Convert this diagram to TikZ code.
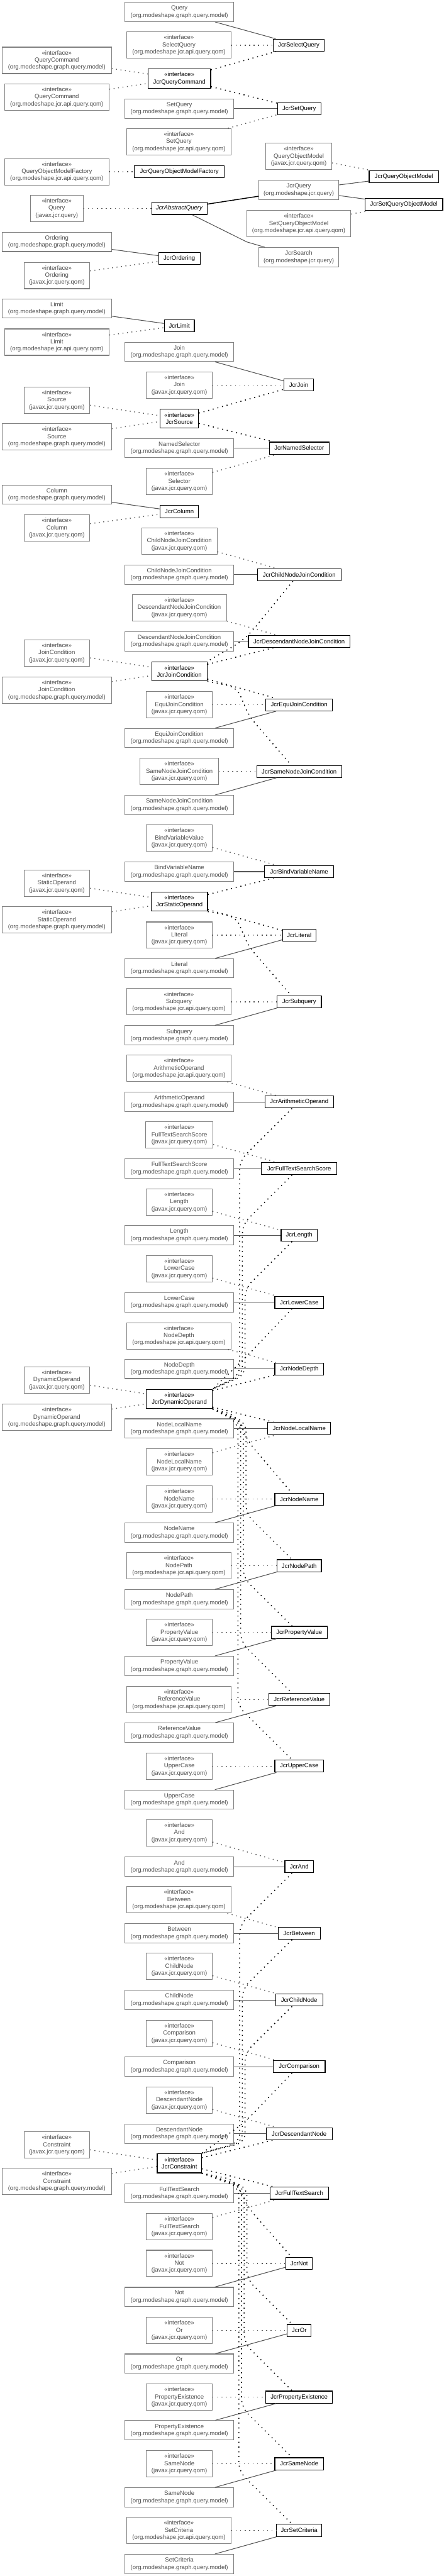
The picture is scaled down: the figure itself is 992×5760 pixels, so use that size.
\documentclass[tikz,border=0pt]{standalone}
\usepackage{fontspec}
\setmainfont{Liberation Sans}
\definecolor{boxgray}{HTML}{808080}
\definecolor{txtgray}{HTML}{4D4D4D}
\definecolor{linegray}{HTML}{555555}
\newcommand\Ifc{«interface»\\}
\begin{document}
\begin{tikzpicture}[x=1pt,y=-1pt,
  font=\fontsize{13.5}{16}\selectfont,
  ext/.style={draw=boxgray,line width=1.5pt,text=txtgray,align=center,inner sep=2pt,minimum height=43pt},
  ext3/.style={ext,minimum height=59pt},
  mdl/.style={ext,minimum width=244pt},
  mdli/.style={ext3,minimum width=244pt},
  qom/.style={ext3,minimum width=233pt},
  jvx/.style={ext3,minimum width=147pt},
  jcr/.style={draw=black,line width=1.6pt,text=black,align=center,inner sep=2pt,minimum height=27pt},
  jcri/.style={jcr,minimum height=43pt},
  wd/.style={minimum width=#1pt},
  assoc/.style={draw=linegray,line width=1.5pt},
  dep/.style={draw=linegray,line width=2pt,dash pattern=on 2pt off 8pt},
  jdep/.style={draw=black,line width=2.2pt,dash pattern=on 2.2pt off 8.5pt},
]
\useasboundingbox (0,0) rectangle (992,5760);

% ---------- Section 1
\node[mdl] (n1) at (401,27) {Query\\(org.modeshape.graph.query.model)};
\node[qom] (n2) at (400,101) {\Ifc SelectQuery\\(org.modeshape.jcr.api.query.qom)};
\node[jcr,wd=115] (n3) at (668,101) {JcrSelectQuery};
\node[mdli] (n4) at (127,135) {\Ifc QueryCommand\\(org.modeshape.graph.query.model)};
\node[jcri,wd=140] (n5) at (401,176) {\Ifc JcrQueryCommand};
\node[qom] (n6) at (127,217) {\Ifc QueryCommand\\(org.modeshape.jcr.api.query.qom)};
\node[mdl] (n7) at (401,243) {SetQuery\\(org.modeshape.graph.query.model)};
\node[jcr,wd=97] (n8) at (669,243) {JcrSetQuery};
\node[qom] (n9) at (400,317) {\Ifc SetQuery\\(org.modeshape.jcr.api.query.qom)};
\node[jvx] (n10) at (668,350) {\Ifc QueryObjectModel\\(javax.jcr.query.qom)};
\node[qom] (n11) at (127,384) {\Ifc QueryObjectModelFactory\\(org.modeshape.jcr.api.query.qom)};
\node[jcr,wd=201] (n12) at (401,384) {JcrQueryObjectModelFactory};
\node[jcr,wd=155] (n13) at (903,395) {JcrQueryObjectModel};
\node[ext,wd=179] (n14) at (668,425) {JcrQuery\\(org.modeshape.jcr.query)};
\node[jcr,wd=174] (n15) at (903,457) {JcrSetQueryObjectModel};
\node[ext3,wd=118] (n16) at (127,466) {\Ifc Query\\(javax.jcr.query)};
\node[jcr,wd=124] (n17) at (401,466) {\textit{JcrAbstractQuery}};
\node[qom] (n18) at (668,500) {\Ifc SetQueryObjectModel\\(org.modeshape.jcr.api.query.qom)};
\node[ext,wd=179] (n19) at (668,575) {JcrSearch\\(org.modeshape.jcr.query)};

% ---------- Section 2
\node[mdl] (n20) at (127,541) {Ordering\\(org.modeshape.graph.query.model)};
\node[jcr,wd=93] (n21) at (401,578) {JcrOrdering};
\node[jvx] (n22) at (127,616) {\Ifc Ordering\\(javax.jcr.query.qom)};
\node[mdl] (n23) at (127,690) {Limit\\(org.modeshape.graph.query.model)};
\node[jcr,wd=67] (n24) at (401,728) {JcrLimit};
\node[qom] (n25) at (127,765) {\Ifc Limit\\(org.modeshape.jcr.api.query.qom)};
\node[mdl] (n26) at (401,787) {Join\\(org.modeshape.graph.query.model)};
\node[jvx] (n27) at (401,861) {\Ifc Join\\(javax.jcr.query.qom)};
\node[jcr,wd=65] (n28) at (668,861) {JcrJoin};
\node[jvx] (n29) at (127,895) {\Ifc Source\\(javax.jcr.query.qom)};
\node[jcri,wd=86] (n30) at (401,936) {\Ifc JcrSource};
\node[mdli] (n31) at (127,977) {\Ifc Source\\(org.modeshape.graph.query.model)};
\node[mdl] (n32) at (401,1002) {NamedSelector\\(org.modeshape.graph.query.model)};
\node[jcr,wd=134] (n33) at (669,1002) {JcrNamedSelector};
\node[jvx] (n34) at (401,1077) {\Ifc Selector\\(javax.jcr.query.qom)};
\node[mdl] (n35) at (127,1106) {Column\\(org.modeshape.graph.query.model)};
\node[jcr,wd=86] (n36) at (401,1144) {JcrColumn};
\node[jvx] (n37) at (127,1181) {\Ifc Column\\(javax.jcr.query.qom)};

% ---------- Section 3
\node[jvx,wd=169] (n38) at (401,1210) {\Ifc ChildNodeJoinCondition\\(javax.jcr.query.qom)};
\node[mdl] (n39) at (401,1285) {ChildNodeJoinCondition\\(org.modeshape.graph.query.model)};
\node[jcr,wd=187] (n40) at (669,1285) {JcrChildNodeJoinCondition};
\node[jvx,wd=211] (n41) at (401,1359) {\Ifc DescendantNodeJoinCondition\\(javax.jcr.query.qom)};
\node[mdl] (n42) at (401,1434) {DescendantNodeJoinCondition\\(org.modeshape.graph.query.model)};
\node[jcr,wd=227] (n43) at (669,1434) {JcrDescendantNodeJoinCondition};
\node[jvx] (n44) at (127,1460) {\Ifc JoinCondition\\(javax.jcr.query.qom)};
\node[jcri,wd=124] (n45) at (401,1501) {\Ifc JcrJoinCondition};
\node[mdli] (n46) at (127,1543) {\Ifc JoinCondition\\(org.modeshape.graph.query.model)};
\node[jvx] (n47) at (401,1576) {\Ifc EquiJoinCondition\\(javax.jcr.query.qom)};
\node[jcr,wd=149] (n48) at (669,1576) {JcrEquiJoinCondition};
\node[mdl] (n49) at (401,1650) {EquiJoinCondition\\(org.modeshape.graph.query.model)};
\node[jvx,wd=175] (n50) at (401,1725) {\Ifc SameNodeJoinCondition\\(javax.jcr.query.qom)};
\node[jcr,wd=190] (n51) at (669,1725) {JcrSameNodeJoinCondition};
\node[mdl] (n52) at (401,1800) {SameNodeJoinCondition\\(org.modeshape.graph.query.model)};

% ---------- Section 4
\node[jvx] (n53) at (401,1874) {\Ifc BindVariableValue\\(javax.jcr.query.qom)};
\node[mdl] (n54) at (401,1949) {BindVariableName\\(org.modeshape.graph.query.model)};
\node[jcr,wd=155] (n55) at (669,1949) {JcrBindVariableName};
\node[jvx] (n56) at (127,1975) {\Ifc StaticOperand\\(javax.jcr.query.qom)};
\node[jcri,wd=126] (n57) at (401,2016) {\Ifc JcrStaticOperand};
\node[mdli] (n58) at (127,2057) {\Ifc StaticOperand\\(org.modeshape.graph.query.model)};
\node[jvx] (n59) at (401,2091) {\Ifc Literal\\(javax.jcr.query.qom)};
\node[jcr,wd=75] (n60) at (669,2091) {JcrLiteral};
\node[mdl] (n61) at (401,2165) {Literal\\(org.modeshape.graph.query.model)};
\node[qom] (n62) at (400,2240) {\Ifc Subquery\\(org.modeshape.jcr.api.query.qom)};
\node[jcr,wd=99] (n63) at (669,2240) {JcrSubquery};
\node[mdl] (n64) at (401,2315) {Subquery\\(org.modeshape.graph.query.model)};

% ---------- Section 5
\node[qom] (n65) at (400,2389) {\Ifc ArithmeticOperand\\(org.modeshape.jcr.api.query.qom)};
\node[mdl] (n66) at (401,2464) {ArithmeticOperand\\(org.modeshape.graph.query.model)};
\node[jcr,wd=153] (n67) at (669,2464) {JcrArithmeticOperand};
\node[jvx,wd=150] (n68) at (401,2538) {\Ifc FullTextSearchScore\\(javax.jcr.query.qom)};
\node[mdl] (n69) at (401,2613) {FullTextSearchScore\\(org.modeshape.graph.query.model)};
\node[jcr,wd=169] (n70) at (669,2613) {JcrFullTextSearchScore};
\node[jvx] (n71) at (401,2688) {\Ifc Length\\(javax.jcr.query.qom)};
\node[mdl] (n72) at (401,2762) {Length\\(org.modeshape.graph.query.model)};
\node[jcr,wd=81] (n73) at (669,2762) {JcrLength};
\node[jvx] (n74) at (401,2837) {\Ifc LowerCase\\(javax.jcr.query.qom)};
\node[mdl] (n75) at (401,2912) {LowerCase\\(org.modeshape.graph.query.model)};
\node[jcr,wd=109] (n76) at (669,2912) {JcrLowerCase};
\node[qom] (n77) at (400,2987) {\Ifc NodeDepth\\(org.modeshape.jcr.api.query.qom)};
\node[mdl] (n78) at (401,3061) {NodeDepth\\(org.modeshape.graph.query.model)};
\node[jcr,wd=109] (n79) at (669,3061) {JcrNodeDepth};
\node[jvx] (n80) at (127,3086) {\Ifc DynamicOperand\\(javax.jcr.query.qom)};
\node[jcri,wd=147] (n81) at (401,3128) {\Ifc JcrDynamicOperand};
\node[mdli] (n82) at (127,3169) {\Ifc DynamicOperand\\(org.modeshape.graph.query.model)};
\node[mdl] (n83) at (401,3194) {NodeLocalName\\(org.modeshape.graph.query.model)};
\node[jcr,wd=141] (n84) at (669,3194) {JcrNodeLocalName};
\node[jvx] (n85) at (401,3269) {\Ifc NodeLocalName\\(javax.jcr.query.qom)};
\node[jvx] (n86) at (401,3352) {\Ifc NodeName\\(javax.jcr.query.qom)};
\node[jcr,wd=109] (n87) at (669,3352) {JcrNodeName};
\node[mdl] (n88) at (401,3427) {NodeName\\(org.modeshape.graph.query.model)};
\node[qom] (n89) at (400,3501) {\Ifc NodePath\\(org.modeshape.jcr.api.query.qom)};
\node[jcr,wd=99] (n90) at (669,3501) {JcrNodePath};
\node[mdl] (n91) at (401,3576) {NodePath\\(org.modeshape.graph.query.model)};
\node[jvx] (n92) at (401,3650) {\Ifc PropertyValue\\(javax.jcr.query.qom)};
\node[jcr,wd=125] (n93) at (669,3650) {JcrPropertyValue};
\node[mdl] (n94) at (401,3725) {PropertyValue\\(org.modeshape.graph.query.model)};
\node[qom] (n95) at (400,3800) {\Ifc ReferenceValue\\(org.modeshape.jcr.api.query.qom)};
\node[jcr,wd=136] (n96) at (669,3800) {JcrReferenceValue};
\node[mdl] (n97) at (401,3874) {ReferenceValue\\(org.modeshape.graph.query.model)};
\node[jvx] (n98) at (401,3949) {\Ifc UpperCase\\(javax.jcr.query.qom)};
\node[jcr,wd=109] (n99) at (669,3949) {JcrUpperCase};
\node[mdl] (n100) at (401,4024) {UpperCase\\(org.modeshape.graph.query.model)};

% ---------- Section 6
\node[jvx] (n101) at (401,4098) {\Ifc And\\(javax.jcr.query.qom)};
\node[mdl] (n102) at (401,4174) {And\\(org.modeshape.graph.query.model)};
\node[jcr,wd=64] (n103) at (669,4174) {JcrAnd};
\node[qom] (n104) at (400,4248) {\Ifc Between\\(org.modeshape.jcr.api.query.qom)};
\node[mdl] (n105) at (401,4323) {Between\\(org.modeshape.graph.query.model)};
\node[jcr,wd=94] (n106) at (669,4323) {JcrBetween};
\node[jvx] (n107) at (401,4397) {\Ifc ChildNode\\(javax.jcr.query.qom)};
\node[mdl] (n108) at (401,4472) {ChildNode\\(org.modeshape.graph.query.model)};
\node[jcr,wd=105] (n109) at (669,4472) {JcrChildNode};
\node[jvx] (n110) at (401,4547) {\Ifc Comparison\\(javax.jcr.query.qom)};
\node[mdl] (n111) at (401,4621) {Comparison\\(org.modeshape.graph.query.model)};
\node[jcr,wd=116] (n112) at (669,4621) {JcrComparison};
\node[jvx] (n113) at (401,4696) {\Ifc DescendantNode\\(javax.jcr.query.qom)};
\node[mdl] (n114) at (401,4771) {DescendantNode\\(org.modeshape.graph.query.model)};
\node[jcr,wd=148] (n115) at (669,4771) {JcrDescendantNode};
\node[jvx] (n116) at (127,4796) {\Ifc Constraint\\(javax.jcr.query.qom)};
\node[jcri,wd=99] (n117) at (401,4837) {\Ifc JcrConstraint};
\node[mdli] (n118) at (127,4878) {\Ifc Constraint\\(org.modeshape.graph.query.model)};
\node[mdl] (n119) at (401,4904) {FullTextSearch\\(org.modeshape.graph.query.model)};
\node[jcr,wd=131] (n120) at (669,4904) {JcrFullTextSearch};
\node[jvx] (n121) at (401,4979) {\Ifc FullTextSearch\\(javax.jcr.query.qom)};
\node[jvx] (n122) at (401,5061) {\Ifc Not\\(javax.jcr.query.qom)};
\node[jcr,wd=59] (n123) at (669,5061) {JcrNot};
\node[mdl] (n124) at (401,5136) {Not\\(org.modeshape.graph.query.model)};
\node[jvx] (n125) at (401,5211) {\Ifc Or\\(javax.jcr.query.qom)};
\node[jcr,wd=53] (n126) at (669,5211) {JcrOr};
\node[mdl] (n127) at (401,5285) {Or\\(org.modeshape.graph.query.model)};
\node[jvx] (n128) at (401,5360) {\Ifc PropertyExistence\\(javax.jcr.query.qom)};
\node[jcr,wd=149] (n129) at (669,5360) {JcrPropertyExistence};
\node[mdl] (n130) at (401,5434) {PropertyExistence\\(org.modeshape.graph.query.model)};
\node[jvx] (n131) at (401,5509) {\Ifc SameNode\\(javax.jcr.query.qom)};
\node[jcr,wd=109] (n132) at (669,5509) {JcrSameNode};
\node[mdl] (n133) at (401,5584) {SameNode\\(org.modeshape.graph.query.model)};
\node[qom] (n134) at (400,5658) {\Ifc SetCriteria\\(org.modeshape.jcr.api.query.qom)};
\node[jcr,wd=101] (n135) at (669,5658) {JcrSetCriteria};
\node[mdl] (n136) at (401,5733) {SetCriteria\\(org.modeshape.graph.query.model)};

% ================= Edges
% Section 1
\draw[assoc] (n1) -- (n3);
\draw[dep] (n2) -- (n3);
\draw[jdep] (n5) -- (n3);
\draw[dep] (n4) -- (n5);
\draw[dep] (n6) -- (n5);
\draw[jdep] (n5) -- (n8);
\draw[assoc] (n7) -- (n8);
\draw[dep] (n9) -- (n8);
\draw[dep] (n10) -- (n13);
\draw[assoc] (n14) -- (n13);
\draw[assoc] (n14) -- (n15);
\draw[dep] (n11) -- (n12);
\draw[dep] (n16) -- (n17);
\draw[assoc,draw=black,line width=2pt] (n17) -- (n14);
\draw[dep] (n18) -- (n15);
\draw[assoc] (n17) -- (552,541) -- (n19);

% Section 2
\draw[assoc] (n20) -- (n21);
\draw[dep] (n22) -- (n21);
\draw[assoc] (n23) -- (n24);
\draw[dep] (n25) -- (n24);
\draw[assoc] (n26) -- (n28);
\draw[dep] (n27) -- (n28);
\draw[jdep] (n30) -- (n28);
\draw[dep] (n29) -- (n30);
\draw[dep] (n31) -- (n30);
\draw[jdep] (n30) -- (n33);
\draw[assoc] (n32) -- (n33);
\draw[dep] (n34) -- (n33);
\draw[assoc] (n35) -- (n36);
\draw[dep] (n37) -- (n36);

% Section 3
\draw[dep] (n38) -- (n40);
\draw[assoc] (n39) -- (n40);
\draw[dep] (n41) -- (n43);
\draw[assoc] (n42) -- (n43);
\draw[dep] (n44) -- (n45);
\draw[dep] (n46) -- (n45);
\draw[jdep] (n45) -- (n43);
\draw[jdep,rounded corners=30pt] ([xshift=-14pt]n40.south) -- (548,1430) -- (n45.north east);
\draw[jdep] (n45) -- (n48);
\draw[dep] (n47) -- (n48);
\draw[assoc] (n49) -- (n48);
\draw[jdep,rounded corners=20pt] (n45.south east) -- (530,1537) -- (556,1600) -- ([xshift=-18pt]n51.north);
\draw[dep] (n50) -- (n51);
\draw[assoc] (n52) -- (n51);

% Section 4
\draw[dep] (n53) -- (n55);
\draw[assoc] (n54) -- (n55);
\draw[jdep] (n57) -- (n55);
\draw[dep] (n56) -- (n57);
\draw[dep] (n58) -- (n57);
\draw[jdep] (n57) -- (n60);
\draw[dep] (n59) -- (n60);
\draw[assoc] (n61) -- (n60);
\draw[jdep,rounded corners=20pt] (n57.south east) -- (528,2050) -- (555,2115) -- ([xshift=-18pt]n63.north);
\draw[dep] (n62) -- (n63);
\draw[assoc] (n64) -- (n63);

% Section 5
\draw[dep] (n65) -- (n67);
\draw[assoc] (n66) -- (n67);
\draw[dep] (n68) -- (n70);
\draw[assoc] (n69) -- (n70);
\draw[dep] (n71) -- (n73);
\draw[assoc] (n72) -- (n73);
\draw[dep] (n74) -- (n76);
\draw[assoc] (n75) -- (n76);
\draw[dep] (n77) -- (n79);
\draw[assoc] (n78) -- (n79);
\draw[dep] (n80) -- (n81);
\draw[dep] (n82) -- (n81);
\draw[jdep] (n81) -- (n79);
\draw[jdep,rounded corners=20pt] ([xshift=-16pt]n67.south) -- (536,2595) -- (536,3075) -- (n81.north east);
\draw[jdep,rounded corners=20pt] ([xshift=-16pt]n70.south) -- (542,2738) -- (542,3075) -- (n81.north east);
\draw[jdep,rounded corners=20pt] ([xshift=-16pt]n73.south) -- (548,2881) -- (548,3075) -- (n81.north east);
\draw[jdep,rounded corners=30pt] ([xshift=-16pt]n76.south) -- (545,3040) -- (n81.north east);
\draw[assoc] (n83) -- (n84);
\draw[dep] (n85) -- (n84);
\draw[jdep] (n81) -- (n84);
\draw[dep] (n86) -- (n87);
\draw[assoc] (n88) -- (n87);
\draw[jdep,rounded corners=20pt] (n81.south east) -- (528,3165) -- (556,3225) -- ([xshift=-17pt]n87.north);
\draw[dep] (n89) -- (n90);
\draw[assoc] (n91) -- (n90);
\draw[jdep,rounded corners=20pt] (n81.south east) -- (550,3180) -- (550,3385) -- ([xshift=-16pt]n90.north);
\draw[dep] (n92) -- (n93);
\draw[assoc] (n94) -- (n93);
\draw[jdep,rounded corners=20pt] (n81.south east) -- (544,3180) -- (544,3528) -- ([xshift=-16pt]n93.north);
\draw[dep] (n95) -- (n96);
\draw[assoc] (n97) -- (n96);
\draw[jdep,rounded corners=20pt] (n81.south east) -- (538,3180) -- (538,3671) -- ([xshift=-16pt]n96.north);
\draw[dep] (n98) -- (n99);
\draw[assoc] (n100) -- (n99);
\draw[jdep,rounded corners=20pt] (n81.south east) -- (532,3180) -- (532,3815) -- ([xshift=-16pt]n99.north);

% Section 6
\draw[dep] (n101) -- (n103);
\draw[assoc] (n102) -- (n103);
\draw[dep] (n104) -- (n106);
\draw[assoc] (n105) -- (n106);
\draw[dep] (n107) -- (n109);
\draw[assoc] (n108) -- (n109);
\draw[dep] (n110) -- (n112);
\draw[assoc] (n111) -- (n112);
\draw[dep] (n113) -- (n115);
\draw[assoc] (n114) -- (n115);
\draw[dep] (n116) -- (n117);
\draw[dep] (n118) -- (n117);
\draw[jdep] (n117) -- (n115);
\draw[jdep,rounded corners=20pt] ([xshift=-16pt]n103.south) -- (536,4304) -- (536,4790) -- (n117.north east);
\draw[jdep,rounded corners=20pt] ([xshift=-16pt]n106.south) -- (542,4447) -- (542,4790) -- (n117.north east);
\draw[jdep,rounded corners=20pt] ([xshift=-16pt]n109.south) -- (548,4590) -- (548,4790) -- (n117.north east);
\draw[jdep,rounded corners=30pt] ([xshift=-16pt]n112.south) -- (548,4745) -- (n117.north east);
\draw[jdep] (n117) -- (n120);
\draw[assoc] (n119) -- (n120);
\draw[dep] (n121) -- (n120);
\draw[jdep,rounded corners=20pt] (n117.south east) -- (524,4874) -- (558,4940) -- ([xshift=-17pt]n123.north);
\draw[dep] (n122) -- (n123);
\draw[assoc] (n124) -- (n123);
\draw[jdep,rounded corners=20pt] (n117.south east) -- (552,4890) -- (552,5096) -- ([xshift=-16pt]n126.north);
\draw[dep] (n125) -- (n126);
\draw[assoc] (n127) -- (n126);
\draw[jdep,rounded corners=20pt] (n117.south east) -- (546,4890) -- (546,5239) -- ([xshift=-16pt]n129.north);
\draw[dep] (n128) -- (n129);
\draw[assoc] (n130) -- (n129);
\draw[jdep,rounded corners=20pt] (n117.south east) -- (540,4890) -- (540,5383) -- ([xshift=-16pt]n132.north);
\draw[dep] (n131) -- (n132);
\draw[assoc] (n133) -- (n132);
\draw[jdep,rounded corners=20pt] (n117.south east) -- (534,4890) -- (534,5526) -- ([xshift=-16pt]n135.north);
\draw[dep] (n134) -- (n135);
\draw[assoc] (n136) -- (n135);
\end{tikzpicture}
\end{document}
